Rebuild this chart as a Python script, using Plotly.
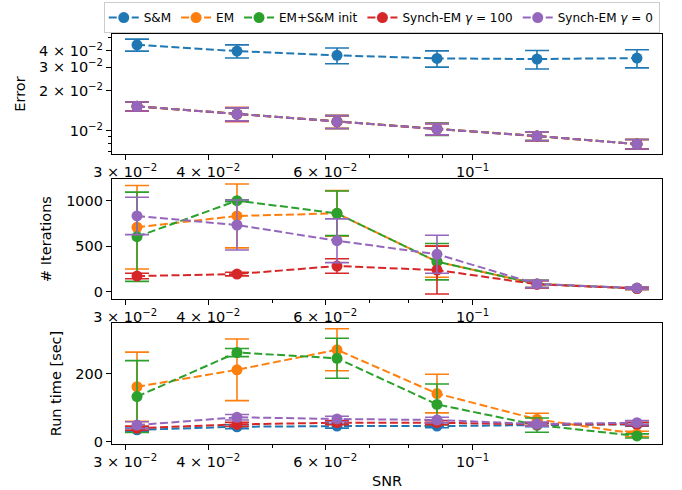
import plotly.graph_objects as go
from plotly.subplots import make_subplots

snr = [0.03125, 0.04419, 0.0625, 0.08839, 0.125, 0.17678]

series_names = ["S&M", "EM", "EM+S&M init", "Synch-EM <i>γ</i> = 100", "Synch-EM <i>γ</i> = 0"]
colors = ["#1f77b4", "#ff7f0e", "#2ca02c", "#d62728", "#9467bd"]

# Error panel
err_sm = [0.0443, 0.0397, 0.0369, 0.0350, 0.0346, 0.0352]
err_sm_sd = [0.0046, 0.0045, 0.0050, 0.0049, 0.0055, 0.0055]
err_em = [0.01526, 0.01335, 0.01169, 0.01032, 0.00912, 0.00794]
err_em_sd = [0.0012, 0.0016, 0.0013, 0.0010, 0.0007, 0.00065]
err_emsm = [0.01526, 0.01335, 0.01169, 0.01032, 0.00912, 0.00794]
err_emsm_sd = [0.0012, 0.0015, 0.0013, 0.0011, 0.0007, 0.00065]
err_s100 = [0.01524, 0.01333, 0.01168, 0.01030, 0.00911, 0.00793]
err_s100_sd = [0.0012, 0.0016, 0.0013, 0.0010, 0.0007, 0.00065]
err_s0 = [0.01526, 0.01335, 0.01169, 0.01030, 0.00912, 0.00794]
err_s0_sd = [0.0012, 0.0015, 0.0013, 0.0010, 0.0007, 0.00065]

# Iterations panel (S&M has none)
it_em = [708, 832, 861, 330, 85, 37]
it_em_sd = [458, 351, 250, 172, 40, 12]
it_emsm = [604, 1000, 861, 330, 85, 37]
it_emsm_sd = [490, 10, 245, 200, 40, 12]
it_s100 = [172, 194, 282, 238, 81, 35]
it_s100_sd = [30, 20, 80, 263, 40, 10]
it_s0 = [832, 733, 560, 411, 85, 40]
it_s0_sd = [205, 275, 240, 209, 40, 12]

# Run time panel
rt_sm = [35, 44, 46, 46, 49, 51]
rt_sm_sd = [5, 6, 6, 5, 5, 5]
rt_em = [162, 212, 271, 142, 66, 23]
rt_em_sd = [102, 91, 62, 57, 18, 8]
rt_emsm = [133, 263, 246, 110, 49, 17]
rt_emsm_sd = [106, 12, 59, 60, 21, 6]
rt_s100 = [40, 51, 56, 56, 51, 52]
rt_s100_sd = [6, 6, 6, 6, 5, 5]
rt_s0 = [49, 72, 67, 64, 52, 56]
rt_s0_sd = [10, 8, 8, 8, 6, 6]

# tick labels
x_tick_vals = [0.03, 0.04, 0.06, 0.1]
x_tick_text = ["3 × 10<sup>−2</sup>", "4 × 10<sup>−2</sup>", "6 × 10<sup>−2</sup>", "10<sup>−1</sup>"]
x_minor_vals = [0.05, 0.07, 0.08, 0.09]
err_tick_vals = [0.01, 0.02, 0.03, 0.04]
err_tick_text = ["10<sup>−2</sup>", "2 × 10<sup>−2</sup>", "3 × 10<sup>−2</sup>", "4 × 10<sup>−2</sup>"]
err_minor_vals = [0.007, 0.008, 0.009, 0.05]
it_tick_vals = [0, 500, 1000]
rt_tick_vals = [0, 200]

panels = [
    [(err_sm, err_sm_sd), (err_em, err_em_sd), (err_emsm, err_emsm_sd), (err_s100, err_s100_sd), (err_s0, err_s0_sd)],
    [None, (it_em, it_em_sd), (it_emsm, it_emsm_sd), (it_s100, it_s100_sd), (it_s0, it_s0_sd)],
    [(rt_sm, rt_sm_sd), (rt_em, rt_em_sd), (rt_emsm, rt_emsm_sd), (rt_s100, rt_s100_sd), (rt_s0, rt_s0_sd)],
]

FONT = "DejaVu Sans"
FS = 14.5

fig = make_subplots(rows=3, cols=1)

for r, panel in enumerate(panels, start=1):
    for i, d in enumerate(panel):
        if d is None:
            continue
        y, sd = d
        fig.add_trace(go.Scatter(
            x=snr, y=y, mode="lines+markers",
            name=series_names[i], legendgroup=str(i), showlegend=(r == 1),
            line=dict(color=colors[i], width=2, dash="8px,3.5px"),
            marker=dict(color=colors[i], size=11),
            error_y=dict(type="data", array=sd, visible=True, color=colors[i], thickness=1.6, width=12),
        ), row=r, col=1)

domains = [[0.7073, 1.0], [0.3537, 0.6463], [0.0, 0.2951]]
axis_common = dict(showline=True, mirror=True, linecolor="black", linewidth=1.1,
                   ticks="outside", ticklen=5, tickwidth=1.1, tickcolor="black",
                   showgrid=False, zeroline=False,
                   tickfont=dict(family=FONT, size=FS, color="black"))

for r in range(1, 4):
    fig.update_xaxes(type="log", range=[-1.5428, -0.7149], tickvals=x_tick_vals, ticktext=x_tick_text,
                     minor=dict(tickvals=x_minor_vals, ticklen=3, tickcolor="black", ticks="outside", showgrid=False),
                     **axis_common, row=r, col=1)
    fig.update_yaxes(domain=domains[r - 1], **axis_common, row=r, col=1)

fig.update_xaxes(title=dict(text="SNR", font=dict(family=FONT, size=FS, color="black"), standoff=6), row=3, col=1)

fig.update_yaxes(type="log", range=[-2.1753, -1.2724],
                 tickvals=err_tick_vals, ticktext=err_tick_text,
                 minor=dict(tickvals=err_minor_vals, ticklen=3, tickcolor="black", ticks="outside", showgrid=False),
                 title=dict(text="Error", font=dict(family=FONT, size=FS, color="black"), standoff=9),
                 row=1, col=1)
fig.update_yaxes(range=[-80, 1238], tickvals=it_tick_vals,
                 title=dict(text="# Iterations", font=dict(family=FONT, size=FS, color="black"), standoff=11),
                 row=2, col=1)
fig.update_yaxes(range=[-6.8, 350], tickvals=rt_tick_vals,
                 title=dict(text="Run time [sec]", font=dict(family=FONT, size=FS, color="black"), standoff=10),
                 row=3, col=1)

fig.update_layout(
    width=682, height=490,
    margin=dict(l=112, r=20, t=34, b=46, autoexpand=False),
    paper_bgcolor="white", plot_bgcolor="white",
    font=dict(family=FONT, size=FS, color="black"),
    legend=dict(orientation="h", x=-0.015, xanchor="left", y=1.078, yanchor="top",
                bordercolor="#cccccc", borderwidth=1, bgcolor="white",
                font=dict(family=FONT, size=12, color="black"),
                itemwidth=30, tracegroupgap=0),
)

fig.write_html("out.html", config={"displayModeBar": False},
               post_script="document.body.style.margin='0px';")
